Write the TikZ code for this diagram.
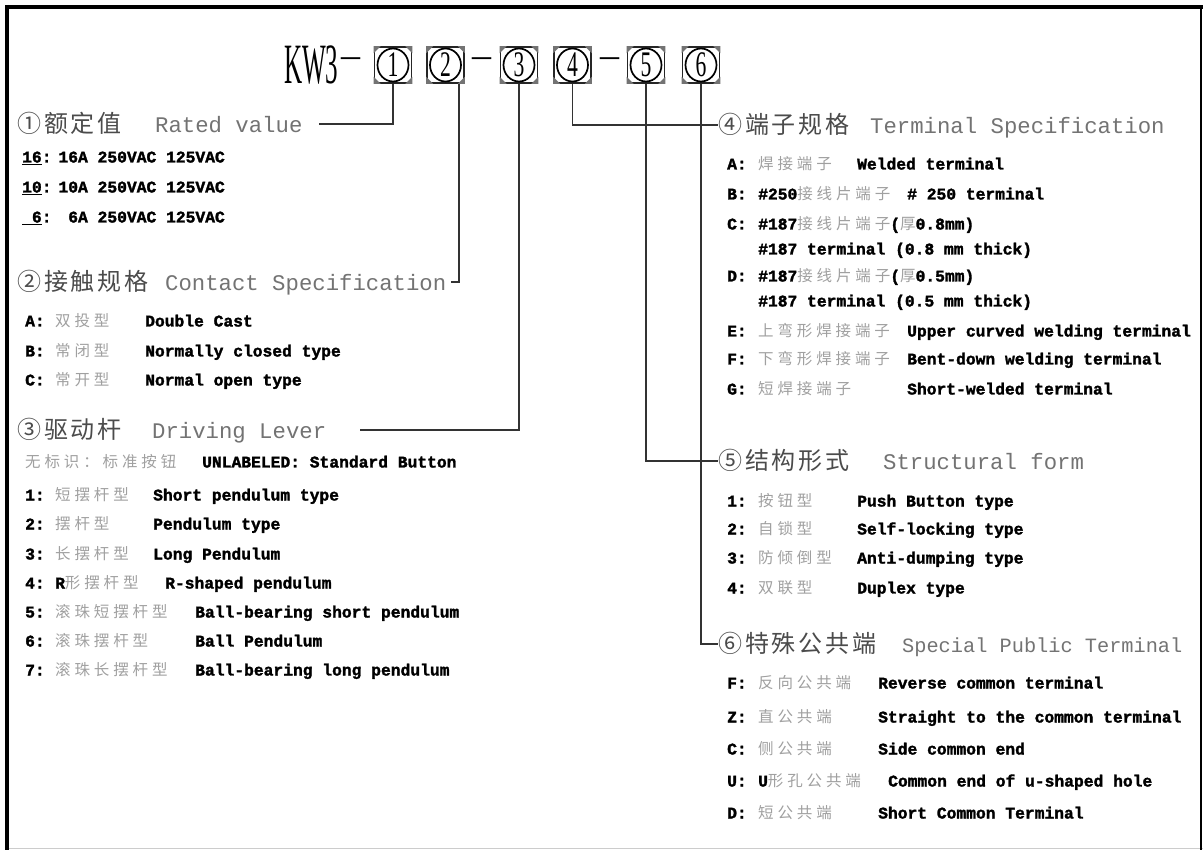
\documentclass[tikz,border=0pt]{standalone}
\usepackage{fontspec}
\usepackage{graphicx}
\setmainfont{Liberation Serif}
\newfontfamily\kwzhH[LetterSpace=12]{Noto Sans CJK SC}
\newfontfamily\kwzhI[LetterSpace=25]{Noto Sans CJK SC}
\newfontfamily\kwmonoB{Liberation Mono}[BoldFeatures={FakeBold=1.8}]
\newfontfamily\kwmonoL{Liberation Mono}
\newcommand\kwitem{\kwmonoB\bfseries\fontsize{16.3}{18}\selectfont}
\newcommand\kwzh{\kwzhI\mdseries\fontsize{15.5}{18}\selectfont}
\newcommand\kwhz{\kwzhH\fontsize{24}{28}\selectfont}
\newcommand\kwhl{\kwmonoL\fontsize{22.3}{26}\selectfont}
\newcommand\gz[1]{{\kwzh\color{zhgray}#1}}
\definecolor{zhgray}{RGB}{160,160,160}
\definecolor{hdgray}{RGB}{75,75,75}
\definecolor{latgray}{RGB}{115,115,115}
\begin{document}
\begin{tikzpicture}[x=1pt,y=-1pt,
  itm/.style={anchor=west,inner sep=0pt,text height=12pt,text depth=3pt,font=\kwitem,text=black},
  zhi/.style={anchor=west,inner sep=0pt,text height=12pt,text depth=3pt,font=\kwzh,text=zhgray},
  hz/.style={anchor=west,inner sep=0pt,text height=22pt,text depth=5pt,font=\kwhz,text=hdgray},
  hl/.style={anchor=west,inner sep=0pt,text height=22pt,text depth=5pt,font=\kwhl,text=latgray},
  conn/.style={draw=black!80,line width=1.8pt},
  dbox/.style={draw=black!85,line width=1.6pt,minimum width=37pt,minimum height=36pt,inner sep=0pt},
  dsh/.style={inner sep=0pt,font=\fontsize{38}{38}\selectfont}
]
\useasboundingbox (0,0) rectangle (1203,850);
\fill[white] (0,0) rectangle (1203,850);
% frame
\draw[line width=0.8pt,black!20] (7,848) -- (1203,848);
\draw[line width=1.6pt] (1201,7) -- (1201,850);
\draw[line width=4.5pt] (5,7) -- (1203,7);
\draw[line width=4.5pt] (7,5) -- (7,850);

% title
\node[anchor=west,inner sep=0pt] (kw) at (284,65) {\scalebox{0.44}[1]{\fontsize{57}{57}\selectfont KW3}};
\node[dsh] (d1) at (351,63) {–};
\node[dsh] (d2) at (481.5,63) {–};
\node[dsh] (d3) at (610,63) {–};
\foreach \i/\x in {1/393,2/445.5,3/519,4/572.5,5/646,6/701}{
  \node[dbox] (b\i) at (\x,65) {};
  \foreach \c/\dx/\dy in {north west/1/1,north east/-1/1,south west/1/-1,south east/-1/-1}{
    \fill[black!55] (b\i.\c) -- ++(7*\dx,0) -- ++(-7*\dx,7*\dy) -- cycle;
  }
  \draw[line width=1.7pt,fill=white] (b\i.center) ellipse (15.5 and 16.5);
  \node[inner sep=0pt,font=\fontsize{36}{36}\selectfont] at (b\i.center) {\scalebox{0.6}[1]{\i}};
}

% headings
\node[hz] (h1z) at (17,124) {①额定值};
\node[hl] (h1l) at (155,124) {Rated value};
\node[hz] (h2z) at (17,282) {②接触规格};
\node[hl] (h2l) at (165,282) {Contact Specification};
\node[hz] (h3z) at (17,430) {③驱动杆};
\node[hl] (h3l) at (152,430) {Driving Lever};
\node[hz] (h4z) at (718,125) {④端子规格};
\node[hl] (h4l) at (870,125) {Terminal Specification};
\node[hz] (h5z) at (718,461) {⑤结构形式};
\node[hl] (h5l) at (883,461) {Structural form};
\node[hz] (h6z) at (718,644) {⑥特殊公共端};
\node[hl,font=\kwmonoL\fontsize{20.3}{26}\selectfont] (h6l) at (902,644) {Special Public Terminal};

% connectors
\draw[conn] (b1.south) |- ([xshift=16pt]h1l.east);
\draw[conn] ([xshift=13.5pt]b2.south) |- ([xshift=5pt]h2l.east);
\draw[conn] (b3.south) |- ([xshift=34pt]h3l.east);
\draw[conn] (b4.south) |- (h4z.west);
\draw[conn] (b5.south) |- (h5z.west);
\draw[conn] (b6.south) |- (h6z.west);

% section 1
\node[itm] (r1a) at (22,158) {\underline{16}:};
\node[itm,anchor=east] (r1b) at (225,158) {16A 250VAC 125VAC};
\node[itm] (r2a) at (22,188) {\underline{10}:};
\node[itm,anchor=east] (r2b) at (225,188) {10A 250VAC 125VAC};
\node[itm] (r3a) at (22,218) {\underline{\hphantom{1}6}:};
\node[itm,anchor=east] (r3b) at (225,218) {6A 250VAC 125VAC};

% section 2
\foreach \n/\y/\l/\z/\e in {a/322/A/双投型/Double Cast,b/352/B/常闭型/Normally closed type,c/381/C/常开型/Normal open type}{
  \node[itm] (s2\n l) at (25,\y) {\l:};
  \node[zhi] (s2\n z) at (55,\y) {\z};
  \node[itm] (s2\n e) at (145,\y) {\e};
}

% section 3
\node[zhi] (s3uz) at (25,463) {无标识：标准按钮};
\node[itm] (s3ue) at (202,463) {UNLABELED: Standard Button};
\foreach \n/\y/\z/\ex/\e in {1/496/短摆杆型/153/Short pendulum type,2/525/摆杆型/153/Pendulum type,3/555/长摆杆型/153/Long Pendulum,5/613/滚珠短摆杆型/195/Ball-bearing short pendulum,6/642/滚珠摆杆型/195/Ball Pendulum,7/671/滚珠长摆杆型/195/Ball-bearing long pendulum}{
  \node[itm] (s3\n l) at (25,\y) {\n:};
  \node[zhi] (s3\n z) at (55,\y) {\z};
  \node[itm] (s3\n e) at (\ex,\y) {\e};
}
\node[itm] (s34l) at (25,584) {4:};
\node[itm] (s34z) at (55,584) {R\gz{形摆杆型}};
\node[itm] (s34e) at (165,584) {R-shaped pendulum};

% section 4
\node[itm] (s4al) at (727,165) {A:};
\node[zhi] (s4az) at (758,165) {焊接端子};
\node[itm] (s4ae) at (857,165) {Welded terminal};
\node[itm] (s4bl) at (727,195) {B:};
\node[itm] (s4bz) at (758,195) {\#250\gz{接线片端子}};
\node[itm] (s4be) at (907,195) {\# 250 terminal};
\node[itm] (s4cl) at (727,225) {C:};
\node[itm] (s4cz) at (758,225) {\#187\gz{接线片端子}(\gz{厚}0.8mm)};
\node[itm] (s4ce) at (758,250) {\#187 terminal (0.8 mm thick)};
\node[itm] (s4dl) at (727,277) {D:};
\node[itm] (s4dz) at (758,277) {\#187\gz{接线片端子}(\gz{厚}0.5mm)};
\node[itm] (s4de) at (758,302) {\#187 terminal (0.5 mm thick)};
\foreach \n/\y/\z/\e in {E/332/上弯形焊接端子/Upper curved welding terminal,F/360/下弯形焊接端子/Bent-down welding terminal,G/390/短焊接端子/Short-welded terminal}{
  \node[itm] (s4\n l) at (727,\y) {\n:};
  \node[zhi] (s4\n z) at (758,\y) {\z};
  \node[itm] (s4\n e) at (907,\y) {\e};
}

% section 5
\foreach \n/\y/\z/\e in {1/502/按钮型/Push Button type,2/530/自锁型/Self-locking type,3/559/防倾倒型/Anti-dumping type,4/589/双联型/Duplex type}{
  \node[itm] (s5\n l) at (727,\y) {\n:};
  \node[zhi] (s5\n z) at (758,\y) {\z};
  \node[itm] (s5\n e) at (857,\y) {\e};
}

% section 6
\foreach \n/\y/\z/\e in {F/684/反向公共端/Reverse common terminal,Z/718/直公共端/Straight to the common terminal,C/750/侧公共端/Side common end,D/814/短公共端/Short Common Terminal}{
  \node[itm] (s6\n l) at (727,\y) {\n:};
  \node[zhi] (s6\n z) at (758,\y) {\z};
  \node[itm] (s6\n e) at (878,\y) {\e};
}
\node[itm] (s6Ul) at (727,782) {U:};
\node[itm] (s6Uz) at (758,782) {U\gz{形孔公共端}};
\node[itm] (s6Ue) at (888,782) {Common end of u-shaped hole};
\end{tikzpicture}
\end{document}
